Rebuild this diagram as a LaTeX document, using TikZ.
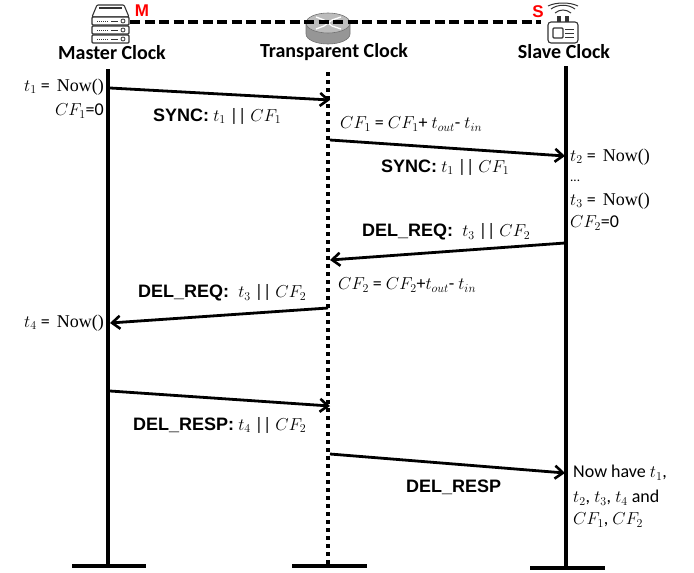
\documentclass[tikz,border=0pt]{standalone}
\usepackage{fontspec}
\setmainfont{Carlito}
\newfontfamily\arialfont{Liberation Sans}
\newfontfamily\nowfont{Liberation Serif}
\definecolor{routertop}{RGB}{188, 188, 188}
\definecolor{routerside}{RGB}{150, 150, 150}
\definecolor{marker}{RGB}{255, 0, 0}
\usetikzlibrary{arrows.meta, calc}

\begin{document}
\begin{tikzpicture}[
        x=1pt, y=-1pt,
        lifeline/.style={line width=4pt, black},
        footline/.style={line width=4pt, black},
        dottedline/.style={line width=3.6pt, black, dash pattern=on 4pt off 4pt},
        msg/.style={-{Straight Barb[length=8pt, width=13pt, line width=2.6pt]}, line width=2.8pt, black},
        clock/.style={font=\fontsize{20}{22}\selectfont\bfseries, inner sep=0pt},
        msglabel/.style={font=\fontsize{18}{20}\selectfont, inner sep=0pt},
        note/.style={font=\fontsize{18}{20}\selectfont, inner sep=0pt},
        tag/.style={font=\arialfont\fontsize{17}{20}\selectfont\bfseries, text=marker, inner sep=0pt},
        icon/.style={line width=1.1pt, black!80, rounded corners=1pt}
    ]
    \useasboundingbox (0,0) rectangle (694,573);

    % clock names
    \node[clock] (master) at (112,53) {Master Clock};
    \node[clock] (transparent) at (334,52) {Transparent Clock};
    \node[clock] (slave) at (564,52) {Slave Clock};

    % lifelines
    \coordinate (mtop) at (108,69);
    \coordinate (mbot) at (108,566);
    \coordinate (ttop) at (328,72);
    \coordinate (tbot) at (328,564);
    \coordinate (stop) at (566,66);
    \coordinate (sbot) at (566,568);
    \draw[lifeline] (mtop) -- (mbot);
    \draw[dottedline] (ttop) -- (tbot);
    \draw[lifeline] (stop) -- (sbot);
    \coordinate (mbl) at (72,566);
    \coordinate (mbr) at (146,566);
    \coordinate (tbl) at (292,566);
    \coordinate (tbr) at (367,566);
    \coordinate (sbl) at (530,568);
    \coordinate (sbr) at (605,568);
    \draw[footline] (mbl) -- (mbr);
    \draw[footline] (tbl) -- (tbr);
    \draw[footline] (sbl) -- (sbr);

    % router icon
    \fill[routerside] (306,23) -- (306,34) arc[x radius=22, y radius=10, start angle=180, end angle=0] -- (350,23) -- cycle;
    \draw[black!55, line width=.6pt] (306,23) -- (306,34) arc[x radius=22, y radius=10, start angle=180, end angle=0] -- (350,23);
    \filldraw[fill=routertop, draw=black!55, line width=.6pt] (328,23) ellipse[x radius=22, y radius=10];
    \draw[white, line width=1.3pt] (316,17) -- (324,20) -- (332,26) -- (341,29);
    \draw[white, line width=1.3pt] (316,29) -- (324,26) -- (332,20) -- (341,17);

    % link between the clocks
    \coordinate (linkl) at (130,22);
    \coordinate (linkr) at (541,22);
    \draw[line width=3.2pt, black, dash pattern=on 10pt off 4.5pt] (linkl) -- (linkr);
    \node[tag] (mtag) at (142,11) {M};
    \node[tag] (stag) at (538,12) {S};

    % server icon
    \draw[icon, fill=white] (92,17) -- (97,5) -- (124,5) -- (129,17) -- cycle;
    \draw[icon] (99,8) -- (122,8);
    \foreach \y in {17,26,35} {
        \draw[icon, fill=white] (92,\y) rectangle (129,\y+8);
        \draw[black!80, line width=1pt, densely dotted] (97,\y+4) -- (109,\y+4);
        \draw[black!80, line width=1pt] (111,\y+4) -- (118,\y+4);
        \draw[black!80, line width=.8pt] (123,\y+4) circle (2pt);
    }

    % slave device icon
    \draw[icon, rounded corners=3pt] (548,22) rectangle (578,43);
    \fill[black!80] (557,16) rectangle (561,22);
    \fill[black!80] (565,16) rectangle (569,22);
    \draw[icon] (553,28) rectangle (563,38);
    \draw[black!80, line width=1pt] (565,29) -- (574,29) (565,33) -- (574,33) (565,37) -- (574,37);
    \draw[black!80, line width=1pt] (555,13) .. controls (560,9) and (566,9) .. (571,13);
    \draw[black!80, line width=1pt] (551,9) .. controls (558,4) and (568,4) .. (575,9);
    \draw[black!80, line width=1pt] (548,6) .. controls (556,2) and (570,2) .. (578,6);

    % messages
    \coordinate (a1) at (110,88);
    \coordinate (b1) at (330,100);
    \coordinate (a2) at (330,140);
    \coordinate (b2) at (565,156);
    \coordinate (a3) at (565,243);
    \coordinate (b3) at (330,260);
    \coordinate (a4) at (328,308);
    \coordinate (b4) at (110,323);
    \coordinate (a5) at (110,391);
    \coordinate (b5) at (330,406);
    \coordinate (a6) at (330,454);
    \coordinate (b6) at (565,473);
    \draw[msg] (a1) -- (b1);
    \draw[msg] (a2) -- (b2);
    \draw[msg] (a3) -- (b3);
    \draw[msg] (a4) -- (b4);
    \draw[msg] (a5) -- (b5);
    \draw[msg] (a6) -- (b6);

    % message labels
    \node[msglabel, anchor=west] (sync1) at (153,116) {{\arialfont\bfseries SYNC:} $t_1$ || $CF_1$};
    \node[msglabel, anchor=west] (sync2) at (381,167) {{\arialfont\bfseries SYNC:} $t_1$ || $CF_1$};
    \node[msglabel, anchor=west] (req1) at (362,232) {{\arialfont\bfseries DEL\_REQ:}\; $t_3$ || $CF_2$};
    \node[msglabel, anchor=west] (req2) at (138,293) {{\arialfont\bfseries DEL\_REQ:}\; $t_3$ || $CF_2$};
    \node[msglabel, anchor=west] (resp1) at (133,425) {{\arialfont\bfseries DEL\_RESP:} $t_4$ || $CF_2$};
    \node[msglabel, anchor=west] (resp2) at (406,487) {{\arialfont\bfseries DEL\_RESP}};

    % notes
    \node[note, anchor=east] (now1) at (104,87) {$t_1$ = \,{\nowfont Now()}};
    \node[note, anchor=east] (cf1) at (104,111) {$CF_1$=0};
    \node[note, anchor=west] (upd1) at (340,124) {$CF_1$ = $CF_1$+ $t_{out}$- $t_{in}$};
    \node[note, anchor=west] (now2) at (570,157) {$t_2$ = \,{\nowfont Now()}};
    \node[note, anchor=west, font=\fontsize{13}{14}\selectfont] (dots) at (570,181) {...};
    \node[note, anchor=west] (now3) at (570,201) {$t_3$ = \,{\nowfont Now()}};
    \node[note, anchor=west] (cf2) at (570,223) {$CF_2$=0};
    \node[note, anchor=west] (upd2) at (338,285) {$CF_2$ = $CF_2$+$t_{out}$- $t_{in}$};
    \node[note, anchor=east] (now4) at (104,323) {$t_4$ = \,{\nowfont Now()}};
    \node[note, anchor=west] (have1) at (573,473) {Now have $t_1$,};
    \node[note, anchor=west] (have2) at (573,498) {$t_2$, $t_3$, $t_4$ and};
    \node[note, anchor=west] (have3) at (573,520) {$CF_1$, $CF_2$};
\end{tikzpicture}
\end{document}
